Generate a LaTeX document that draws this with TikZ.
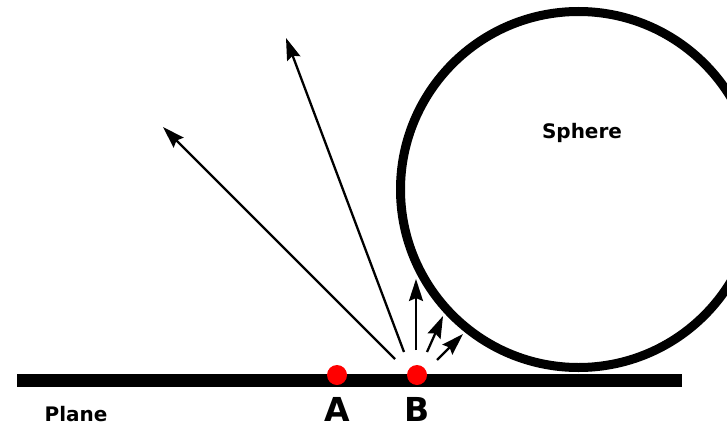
\documentclass[tikz,border=0pt]{standalone}
\usepackage{fontspec}
\setmainfont{DejaVu Sans}
\usetikzlibrary{arrows.meta, positioning}
\definecolor{dotred}{HTML}{FF0000}

\begin{document}
\begin{tikzpicture}[
    x=1pt, y=-1pt,
    ray/.style={-{Stealth[length=22pt, width=14pt, inset=3pt]}, line width=2.3pt},
    dot/.style={circle, fill=dotred, inner sep=0pt, minimum size=20pt},
    label/.style={font=\bfseries\fontsize{#1}{#1}\selectfont, inner sep=0pt},
]
\useasboundingbox (0,0) rectangle (727,428);

% Plane and sphere
\draw[line width=13pt] (17,380.5) coordinate (planeL) -- (682,380.5) coordinate (planeR);
\draw[line width=9pt] (578.5,189.5) coordinate (centre) circle[radius=178pt];
\node[label=20] (sphere) at (582,133) {Sphere};
\node[label=20] (plane) at (76,414) {Plane};

% Points
\node[dot] (ptA) at (337,375) {};
\node[dot] (ptB) at (417,375) {};
\node[label=33] (labA) at (337,409) {A};
\node[label=33] (labB) at (417,409) {B};

% Rays
\coordinate (s1) at (395,359);
\coordinate (e1) at (163,127);
\coordinate (s2) at (404,352);
\coordinate (e2) at (286,38);
\coordinate (s3) at (416,350);
\coordinate (e3) at (416,279);
\coordinate (s4) at (427,352);
\coordinate (e4) at (443,316);
\coordinate (s5) at (437,360);
\coordinate (e5) at (463,334);
\draw[ray] (s1) -- (e1);
\draw[ray] (s2) -- (e2);
\draw[ray] (s3) -- (e3);
\draw[ray] (s4) -- (e4);
\draw[ray] (s5) -- (e5);

\end{tikzpicture}
\end{document}
